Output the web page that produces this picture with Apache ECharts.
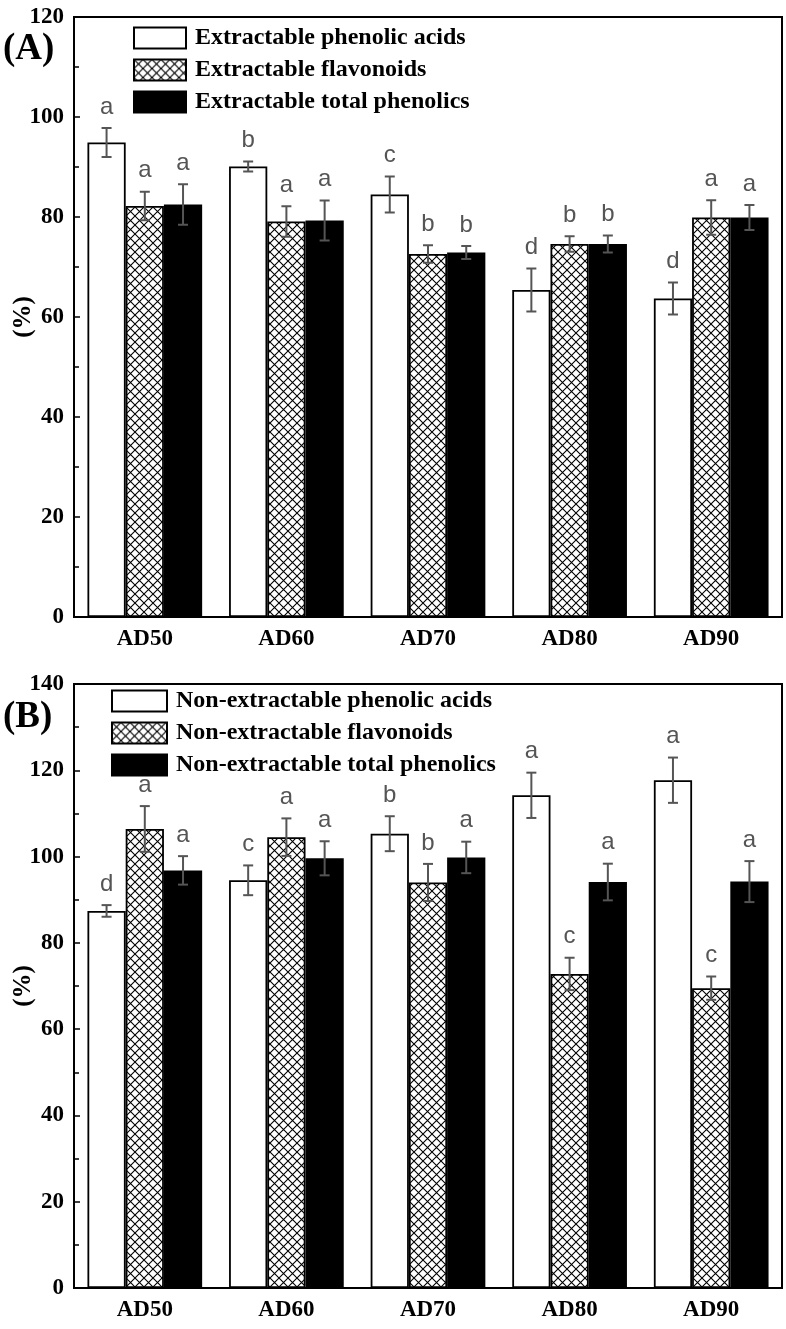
<!DOCTYPE html>
<html><head><meta charset="utf-8">
<script src="https://cdn.jsdelivr.net/npm/echarts@6/dist/echarts.min.js"></script>
<style>html,body{margin:0;padding:0;background:#fff}#c{width:786px;height:1329px}</style>
</head><body><div id="c"></div>
<script>
const categories = ['AD50', 'AD60', 'AD70', 'AD80', 'AD90'];
const yTicksA = { min: 0, max: 120, step: 20 };
const yTicksB = { min: 0, max: 140, step: 20 };

// Panel A
const acidsA = [94.9, 90.1, 84.5, 65.4, 63.7];
const acidsAErr = [2.9, 1.0, 3.6, 4.3, 3.2];
const acidsALetters = ['a', 'b', 'c', 'd', 'd'];
const flavA = [82.2, 79.1, 72.6, 74.6, 79.9];
const flavAErr = [2.85, 3.05, 1.75, 1.55, 3.45];
const flavALetters = ['a', 'a', 'b', 'b', 'a'];
const totalA = [82.5, 79.3, 72.9, 74.6, 79.9];
const totalAErr = [4.05, 4.0, 1.3, 1.7, 2.5];
const totalALetters = ['a', 'a', 'b', 'b', 'a'];

// Panel B
const acidsB = [87.4, 94.5, 105.3, 114.2, 117.7];
const acidsBErr = [1.35, 3.45, 4.05, 5.25, 5.25];
const acidsBLetters = ['d', 'c', 'b', 'a', 'a'];
const flavB = [106.4, 104.5, 94.0, 72.8, 69.5];
const flavBErr = [5.3, 4.35, 4.3, 3.75, 2.7];
const flavBLetters = ['a', 'a', 'b', 'c', 'c'];
const totalB = [96.8, 99.6, 99.8, 94.1, 94.2];
const totalBErr = [3.3, 3.95, 3.65, 4.25, 4.75];
const totalBLetters = ['a', 'a', 'a', 'a', 'a'];

const namesA = ['Extractable phenolic acids', 'Extractable flavonoids', 'Extractable total phenolics'];
const namesB = ['Non-extractable phenolic acids', 'Non-extractable flavonoids', 'Non-extractable total phenolics'];

const SERIF = '"Liberation Serif", "Times New Roman", serif';
const SANS = '"Liberation Sans", Arial, sans-serif';

function hatchCanvas() {
  const s = 9;
  const c = document.createElement('canvas');
  c.width = s; c.height = s;
  const g = c.getContext('2d');
  g.fillStyle = '#fff'; g.fillRect(0, 0, s, s);
  g.strokeStyle = '#000'; g.lineWidth = 1.1;
  g.beginPath();
  g.moveTo(0, 0); g.lineTo(s, s);
  g.moveTo(s, 0); g.lineTo(0, s);
  g.stroke();
  return c;
}
const hatch = { image: hatchCanvas(), repeat: 'repeat' };
const fills = ['#ffffff', hatch, '#000000'];
const BAR_FRAC = 0.27;

function barSeries(name, data, idx, gi) {
  return {
    type: 'bar', name: name, data: data, xAxisIndex: gi, yAxisIndex: gi,
    barWidth: (BAR_FRAC * 100) + '%', barGap: '0%', silent: true,
    itemStyle: { color: fills[idx], borderColor: '#000', borderWidth: 1.8 }
  };
}

function errSeries(means, errs, letters, idx, gi) {
  return {
    type: 'custom', xAxisIndex: gi, yAxisIndex: gi, clip: false, z: 5, silent: true,
    data: means.map((m, i) => [i, m, errs[i]]),
    encode: { x: 0, y: 1 },
    renderItem: function (p, api) {
      const i = api.value(0), m = api.value(1), e = api.value(2);
      const bw = api.size([1, 0])[0] * BAR_FRAC;
      const top = api.coord([i, m + e]);
      const bot = api.coord([i, m - e]);
      const x = top[0] + (idx - 1) * bw;
      const cap = 5;
      const st = { stroke: '#555', lineWidth: 2 };
      return {
        type: 'group', children: [
          { type: 'line', shape: { x1: x, y1: top[1], x2: x, y2: bot[1] }, style: st },
          { type: 'line', shape: { x1: x - cap, y1: top[1], x2: x + cap, y2: top[1] }, style: st },
          { type: 'line', shape: { x1: x - cap, y1: bot[1], x2: x + cap, y2: bot[1] }, style: st },
          { type: 'text', style: { text: letters[p.dataIndex], x: x, y: top[1] - 9, textAlign: 'center', textVerticalAlign: 'bottom', fill: '#555', font: '24px ' + SANS } }
        ]
      };
    }
  };
}

const axisTextBold = { color: '#000', fontFamily: SERIF, fontWeight: 'bold', fontSize: 23 };

function xAxis(gi) {
  return {
    type: 'category', gridIndex: gi, data: categories,
    axisTick: { show: false },
    axisLine: { lineStyle: { color: '#000', width: 2 } },
    axisLabel: Object.assign({ margin: 11 }, axisTextBold)
  };
}
function yAxis(gi, t) {
  return {
    type: 'value', gridIndex: gi, min: t.min, max: t.max, interval: t.step,
    axisLine: { show: true, lineStyle: { color: '#000', width: 2 } },
    axisTick: { show: true, inside: true, length: 6, lineStyle: { color: '#000', width: 1.5 } },
    minorTick: { show: true, splitNumber: 2, length: 5, lineStyle: { color: '#000', width: 1.5 } },
    splitLine: { show: false },
    axisLabel: Object.assign({ margin: 10 }, axisTextBold),
    name: '(%)', nameLocation: 'middle', nameGap: 38, nameRotate: 90, nameMoveOverlap: false,
    nameTextStyle: { color: '#000', fontFamily: SERIF, fontWeight: 'bold', fontSize: 25 }
  };
}
function legend(names, left, top, w) {
  return {
    orient: 'vertical', left: left, top: top, padding: 0,
    itemWidth: w, itemHeight: 21, itemGap: 8, icon: 'rect',
    selectedMode: false, data: names,
    textStyle: { color: '#000', fontFamily: SERIF, fontWeight: 'bold', fontSize: 24, lineHeight: 24, padding: [0, 0, 0, 4] }
  };
}

const option = {
  animation: false,
  backgroundColor: '#fff',
  grid: [
    { left: 74, top: 17, width: 708, height: 600, show: true, borderColor: '#000', borderWidth: 2, backgroundColor: 'transparent', containLabel: false, outerBoundsMode: 'none' },
    { left: 74, top: 684, width: 708, height: 604, show: true, borderColor: '#000', borderWidth: 2, backgroundColor: 'transparent', containLabel: false, outerBoundsMode: 'none' }
  ],
  xAxis: [xAxis(0), xAxis(1)],
  yAxis: [yAxis(0, yTicksA), yAxis(1, yTicksB)],
  legend: [legend(namesA, 133, 26, 52), legend(namesB, 111, 689, 55)],
  graphic: [
    { type: 'text', left: 3, top: 31, style: { text: '(A)', font: 'bold 37px ' + SERIF, fill: '#000' } },
    { type: 'text', left: 3, top: 699, style: { text: '(B)', font: 'bold 37px ' + SERIF, fill: '#000' } }
  ],
  series: [
    barSeries(namesA[0], acidsA, 0, 0),
    barSeries(namesA[1], flavA, 1, 0),
    barSeries(namesA[2], totalA, 2, 0),
    barSeries(namesB[0], acidsB, 0, 1),
    barSeries(namesB[1], flavB, 1, 1),
    barSeries(namesB[2], totalB, 2, 1),
    errSeries(acidsA, acidsAErr, acidsALetters, 0, 0),
    errSeries(flavA, flavAErr, flavALetters, 1, 0),
    errSeries(totalA, totalAErr, totalALetters, 2, 0),
    errSeries(acidsB, acidsBErr, acidsBLetters, 0, 1),
    errSeries(flavB, flavBErr, flavBLetters, 1, 1),
    errSeries(totalB, totalBErr, totalBLetters, 2, 1)
  ]
};
const chart = echarts.init(document.getElementById('c'), null, { renderer: 'canvas' });
chart.setOption(option);
</script></body></html>
